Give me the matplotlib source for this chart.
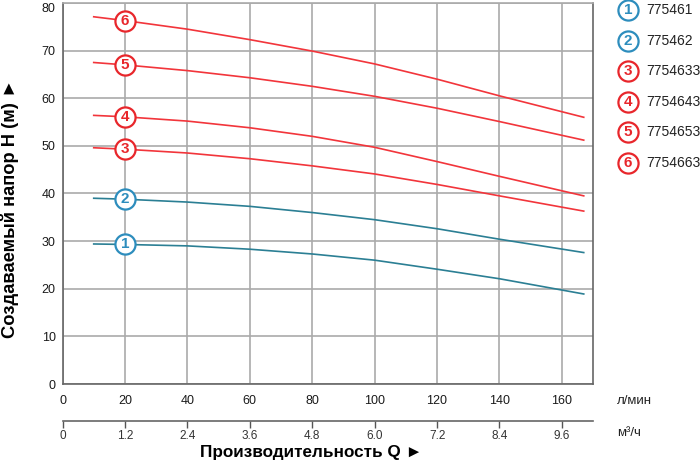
import numpy as np
import matplotlib
matplotlib.use("Agg")
from matplotlib import pyplot as plt
from matplotlib.lines import Line2D

plt.rcParams["font.family"] = ["Liberation Sans", "DejaVu Sans"]

# flow, l/min
q_lmin = [10, 20, 40, 60, 80, 100, 120, 140, 167]

head_775461 = [29.4, 29.3, 29.0, 28.3, 27.3, 26.0, 24.1, 22.1, 18.9]
head_775462 = [39.0, 38.8, 38.2, 37.3, 36.0, 34.5, 32.6, 30.4, 27.6]
head_7754633 = [49.6, 49.3, 48.5, 47.3, 45.8, 44.1, 41.9, 39.5, 36.3]
head_7754643 = [56.4, 56.1, 55.2, 53.8, 52.0, 49.7, 46.7, 43.6, 39.5]
head_7754653 = [67.5, 67.0, 65.8, 64.3, 62.5, 60.4, 57.9, 55.1, 51.2]
head_7754663 = [77.1, 76.3, 74.5, 72.3, 69.9, 67.2, 64.0, 60.5, 56.0]

models = ["775461", "775462", "7754633", "7754643", "7754653", "7754663"]
heads = [head_775461, head_775462, head_7754633, head_7754643, head_7754653, head_7754663]

x_ticks = [0, 20, 40, 60, 80, 100, 120, 140, 160]
m3h_ticks = [0, 1.2, 2.4, 3.6, 4.8, 6.0, 7.2, 8.4, 9.6]
y_ticks = [0, 10, 20, 30, 40, 50, 60, 70, 80]

blue_line = "#2b7f94"
blue_mark = "#2d8dbd"
red_line = "#f2353b"
red_mark = "#e8262b"

fig = plt.figure(figsize=(7, 4.63), dpi=100)
ax = fig.add_axes([0.0893, 0.1706, 0.758, 0.823])

for i, (name, h) in enumerate(zip(models, heads)):
    lc = blue_line if i < 2 else red_line
    mc = blue_mark if i < 2 else red_mark
    ax.plot(q_lmin, h, color=lc, lw=1.2, zorder=3)
    y20 = np.interp(20, q_lmin, h)
    ax.plot(20, y20, marker="o", ms=14.5, mfc="white", mec=mc, mew=1.6, zorder=4)
    ax.text(20, y20, str(i + 1), color=mc, fontsize=11, ha="center", va="center",
            fontweight="bold", zorder=5)

    # legend on the right
    yf = 1 - (10 + 30.6 * i) / 463
    fig.add_artist(Line2D([628 / 700], [yf], marker="o", ms=14.5, mfc="white",
                          mec=mc, mew=1.6, transform=fig.transFigure))
    fig.text(628 / 700, yf, str(i + 1), color=mc, fontsize=11, ha="center",
             va="center", fontweight="bold")
    fig.text(646 / 700, yf, name, color="#222222", fontsize=10, ha="left", va="center")

ax.set_xlim(0, 170)
ax.set_ylim(0, 80)
ax.set_xticks(x_ticks)
ax.set_yticks(y_ticks)
ax.tick_params(length=0, labelsize=9, colors="#1a1a1a")
ax.tick_params(axis="x", pad=8)
ax.tick_params(axis="y", pad=5)
ax.get_yticklabels()[-1].set_va("top")
ax.grid(True, color="#aaaaaa", lw=1.2)
ax.set_axisbelow(True)
for s in ax.spines.values():
    s.set_color("#666666")
    s.set_linewidth(1.2)
ax.spines["top"].set_color("#aaaaaa")

sec = ax.secondary_xaxis(-0.098, functions=(lambda x: x * 0.06, lambda x: x / 0.06))
sec.set_xticks(m3h_ticks)
sec.set_xticklabels([f"{v:.1f}" if v else "0" for v in m3h_ticks])
sec.tick_params(direction="out", length=5, width=1, colors="#555555", labelsize=8.5,
                labelcolor="#333333", pad=1.5)
sec.spines["bottom"].set_color("#666666")
sec.spines["bottom"].set_linewidth(1.2)

fig.text(617 / 700, 1 - 401 / 463, "л/мин", fontsize=9.5, va="center", ha="left", color="#222222")
fig.text(617 / 700, 1 - 433 / 463, "м³/ч", fontsize=9.5, va="center", ha="left", color="#222222")

fig.text(311 / 700, 1 - 452 / 463, "Производительность Q ►", fontsize=12.3,
         fontweight="bold", ha="center", va="center")
fig.text(10 / 700, 1 - 208 / 463, "Создаваемый напор H (м) ►", fontsize=13.2,
         fontweight="bold", ha="center", va="center", rotation=90)

fig.savefig("out.png", dpi=100)
plt.close(fig)
